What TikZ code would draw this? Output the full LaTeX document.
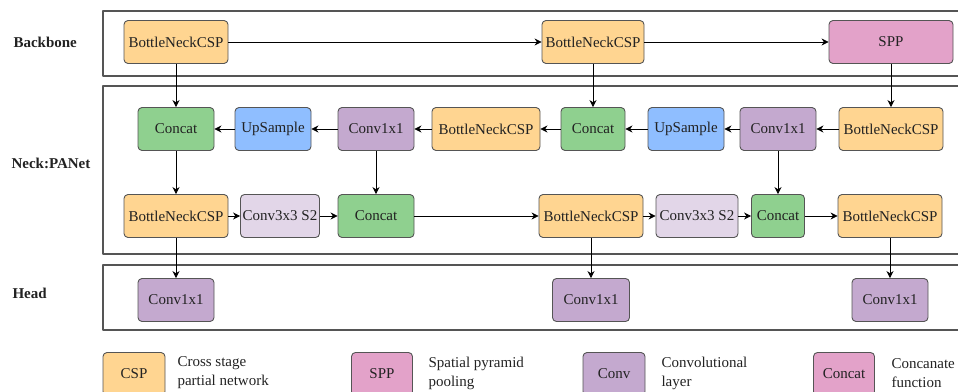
\documentclass[tikz,border=0pt]{standalone}
\usepackage{fontspec}
\setmainfont{Liberation Serif}
\usepackage{xcolor}
\usepackage{tikz}
\usetikzlibrary{arrows.meta,positioning}
\definecolor{ylInk}{HTML}{222222}
\definecolor{ylEdge}{HTML}{555555}
\definecolor{ylCsp}{HTML}{FFD591}
\definecolor{ylSpp}{HTML}{E3A2C9}
\definecolor{ylCat}{HTML}{8FD08F}
\definecolor{ylUp}{HTML}{8FBEFF}
\definecolor{ylConv}{HTML}{C4A9CF}
\definecolor{ylDown}{HTML}{E2D6E8}
\tikzset{
  yl diagram/.style={font=\fontsize{15}{19}\selectfont, text=ylInk,
    line join=round},
  yl frame/.style={draw=ylEdge, line width=1.1pt},
  yl box/.style={draw=ylEdge, line width=0.9pt, rounded corners=4pt,
    minimum height=43pt, inner sep=0pt, align=center},
  yl csp/.style={yl box, fill=ylCsp, minimum width=104pt},
  yl spp/.style={yl box, fill=ylSpp},
  yl cat/.style={yl box, fill=ylCat, minimum width=76pt},
  yl up/.style={yl box, fill=ylUp, minimum width=76pt},
  yl conv/.style={yl box, fill=ylConv, minimum width=76pt},
  yl down/.style={yl box, fill=ylDown},
  yl arrow/.style={-{Stealth[length=7pt,width=7pt]}, draw=black, line width=0.8pt},
  yl stage/.style={font=\fontsize{15}{17}\selectfont\bfseries, anchor=west},
  yl note/.style={align=left, anchor=west}
}
\begin{document}
\begin{tikzpicture}[yl diagram,x=1pt,y=-1pt]
\useasboundingbox (0,0) rectangle (958,391);
\clip (0,0) rectangle (958,391);
\draw[yl frame] (103,11) rectangle (964,76);
\draw[yl frame] (103,86) rectangle (964,254);
\draw[yl frame] (103,265) rectangle (964,330);
\node[yl stage] (lbb) at (10,42) {Backbone};
\node[yl stage] (lneck) at (8,163) {Neck:PANet};
\node[yl stage] (lhead) at (9,293) {Head};
% backbone
\node[yl csp] (bb1) at (176,42) {BottleNeckCSP};
\node[yl csp, minimum width=102pt] (bb2) at (593,42) {BottleNeckCSP};
\node[yl spp, minimum width=124pt] (spp) at (891,42) {SPP};
% neck, top row
\node[yl cat] (cat1) at (176,129) {Concat};
\node[yl up] (up1) at (273,129) {UpSample};
\node[yl conv] (cv1) at (376,129) {Conv1x1};
\node[yl csp, minimum width=108pt] (csp1) at (486,129) {BottleNeckCSP};
\node[yl cat, minimum width=64pt] (cat2) at (593,129) {Concat};
\node[yl up] (up2) at (686,129) {UpSample};
\node[yl conv] (cv2) at (778,129) {Conv1x1};
\node[yl csp] (csp2) at (891,129) {BottleNeckCSP};
% neck, bottom row
\node[yl csp] (csp3) at (176,216) {BottleNeckCSP};
\node[yl down, minimum width=79pt] (dn1) at (280,216) {Conv3x3 S2};
\node[yl cat] (cat3) at (376,216) {Concat};
\node[yl csp] (csp4) at (591,216) {BottleNeckCSP};
\node[yl down, minimum width=82pt] (dn2) at (697,216) {Conv3x3 S2};
\node[yl cat, minimum width=53pt] (cat4) at (778,216) {Concat};
\node[yl csp] (csp5) at (890,216) {BottleNeckCSP};
% head
\node[yl conv] (hd1) at (176,300) {Conv1x1};
\node[yl conv, minimum width=77pt] (hd2) at (591,300) {Conv1x1};
\node[yl conv] (hd3) at (890,300) {Conv1x1};
% legend
\node[yl csp, minimum width=62pt] (kcsp) at (134,374) {CSP};
\node[yl note] (tcsp) at (174,373) {Cross stage\\partial network};
\node[yl spp, minimum width=61pt] (kspp) at (382,374) {SPP};
\node[yl note] (tspp) at (425,373) {Spatial pyramid\\pooling};
\node[yl conv, minimum width=62pt] (kconv) at (614,374) {Conv};
\node[yl note] (tconv) at (658,373) {Convolutional\\layer};
\node[yl spp, minimum width=61pt] (kcat) at (844,374) {Concat};
\node[yl note] (tcat) at (888,373) {Concanate\\function};
% connectors
\draw[yl arrow] (bb1) -- (bb2);
\draw[yl arrow] (bb2) -- (spp);
\draw[yl arrow] (bb1) -- (cat1);
\draw[yl arrow] (bb2) -- (cat2);
\draw[yl arrow] (spp) -- (csp2);
\draw[yl arrow] (csp2) -- (cv2);
\draw[yl arrow] (cv2) -- (up2);
\draw[yl arrow] (up2) -- (cat2);
\draw[yl arrow] (cat2) -- (csp1);
\draw[yl arrow] (csp1) -- (cv1);
\draw[yl arrow] (cv1) -- (up1);
\draw[yl arrow] (up1) -- (cat1);
\draw[yl arrow] (cat1) -- (csp3);
\draw[yl arrow] (cv1) -- (cat3);
\draw[yl arrow] (cv2) -- (cat4);
\draw[yl arrow] (csp3) -- (dn1);
\draw[yl arrow] (dn1) -- (cat3);
\draw[yl arrow] (cat3) -- (csp4);
\draw[yl arrow] (csp4) -- (dn2);
\draw[yl arrow] (dn2) -- (cat4);
\draw[yl arrow] (cat4) -- (csp5);
\draw[yl arrow] (csp3) -- (hd1);
\draw[yl arrow] (csp4) -- (hd2);
\draw[yl arrow] (csp5) -- (hd3);
\end{tikzpicture}
\end{document}
